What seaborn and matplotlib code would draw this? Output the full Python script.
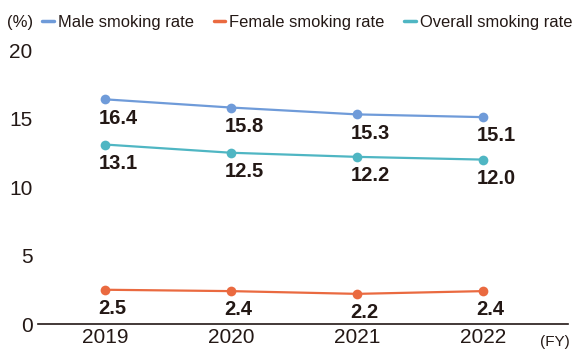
import pandas as pd
import matplotlib.pyplot as plt
import seaborn as sns
from matplotlib.lines import Line2D

# dados
anos = ["2019", "2020", "2021", "2022"]
masculino = [16.4, 15.8, 15.3, 15.1]
feminino = [2.5, 2.4, 2.2, 2.4]
geral = [13.1, 12.5, 12.2, 12.0]

series = ["Male smoking rate", "Female smoking rate", "Overall smoking rate"]
cores = ["#6f9bd9", "#ea6a40", "#4fb6c3"]

df = pd.DataFrame({
    "ano": list(range(len(anos))) * 3,
    "taxa": masculino + feminino + geral,
    "serie": [s for s in series for _ in anos],
})

sns.set_style("white")
plt.rcParams["font.family"] = ["Liberation Sans", "DejaVu Sans"]
texto = "#231815"

fig = plt.figure(figsize=(5.77, 3.51), dpi=100)
ax = fig.add_axes([38 / 577, 27 / 351, (568 - 38) / 577, (324 - 50) / 351])

sns.lineplot(data=df, x="ano", y="taxa", hue="serie", hue_order=series,
             palette=cores, marker="o", markersize=7, markeredgewidth=0,
             linewidth=1.6, legend=False, ax=ax)

# rótulos dos valores, abaixo de cada ponto
for valores in [masculino, feminino, geral]:
    for i, v in enumerate(valores):
        ax.annotate(f"{v:.1f}", (i, v), xytext=(-4.7, -13.5), textcoords="offset points",
                    ha="left", va="center", fontsize=14.5, fontweight="bold", color=texto)

ax.set_xlim(-0.532, 3.675)
ax.set_ylim(0, 20)
ax.set_yticks([0, 5, 10, 15, 20])
ax.set_xticks(range(len(anos)))
ax.set_xticklabels(anos)
ax.set_xlabel("")
ax.set_ylabel("")
ax.tick_params(axis="both", length=0, labelsize=15, labelcolor=texto)
ax.tick_params(axis="y", pad=4)
ax.tick_params(axis="x", pad=3)
for lado in ["left", "right", "top"]:
    ax.spines[lado].set_visible(False)
ax.spines["bottom"].set_color(texto)
ax.spines["bottom"].set_linewidth(1.2)

fig.text(540 / 577, 1 - 342 / 351, "(FY)", fontsize=11, color=texto, va="center")
fig.text(7 / 577, 1 - 22 / 351, "(%)", fontsize=12, color=texto, va="center")

handles = [Line2D([0], [0], color=c, linewidth=2.5) for c in cores]
fig.legend(handles, series, loc="center left", bbox_to_anchor=(42 / 577, 1 - 22 / 351),
           ncol=3, frameon=False, fontsize=11.9, handlelength=0.7, handletextpad=0.25,
           columnspacing=1.2, borderpad=0, borderaxespad=0, labelcolor=texto)

fig.savefig("out.png", dpi=100)
